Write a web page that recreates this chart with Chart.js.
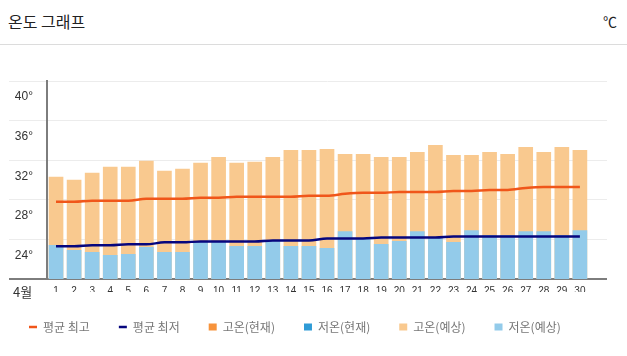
<!DOCTYPE html>
<html>
<head>
<meta charset="utf-8">
<script src="https://cdn.jsdelivr.net/npm/chart.js@4/dist/chart.umd.min.js"></script>
<style>
  html, body { margin: 0; padding: 0; background: #fff; }
  body { width: 627px; height: 356px; overflow: hidden; font-family: 'Noto Sans CJK KR', sans-serif; }
  #head { position: relative; height: 44px; border-bottom: 1px solid #dcdcdc; }
  #title { position: absolute; left: 8px; top: 9px; font-size: 16px; line-height: 24px; color: #222; }
  #unit { position: absolute; right: 10px; top: 9px; font-size: 14px; line-height: 24px; color: #222; }
  #wrap { position: relative; width: 627px; height: 311px; }
</style>
</head>
<body>
<div id="head"><span id="title">온도 그래프</span><span id="unit">℃</span></div>
<div id="wrap"><canvas id="c"></canvas></div>
<script>
const monthLabel = '4월';
const days = ['1','2','3','4','5','6','7','8','9','10','11','12','13','14','15','16','17','18','19','20','21','22','23','24','25','26','27','28','29','30'];
const yTicks = [20, 24, 28, 32, 36, 40];
const avgHigh = [27.8,27.8,27.9,27.9,27.9,28.1,28.1,28.1,28.2,28.2,28.3,28.3,28.3,28.3,28.4,28.4,28.6,28.7,28.7,28.8,28.8,28.8,28.9,28.9,29.0,29.0,29.2,29.3,29.3,29.3];
const avgLow = [23.3,23.3,23.4,23.4,23.5,23.5,23.7,23.7,23.8,23.8,23.8,23.8,23.9,23.9,23.9,24.1,24.1,24.1,24.2,24.2,24.2,24.2,24.3,24.3,24.3,24.3,24.3,24.3,24.3,24.3];
const highCurrent = [];
const lowCurrent = [];
const highForecast = [30.3,30.0,30.7,31.3,31.3,31.9,30.9,31.1,31.7,32.3,31.7,31.8,32.3,33.0,33.0,33.1,32.6,32.6,32.3,32.3,32.8,33.5,32.5,32.5,32.8,32.6,33.3,32.8,33.3,33.0];
const lowForecast = [23.4,22.9,22.7,22.4,22.5,23.2,22.7,22.7,23.7,23.7,23.3,23.3,23.8,23.3,23.3,23.1,24.8,24.1,23.5,23.8,24.8,24.2,23.7,24.9,24.4,24.4,24.8,24.8,24.4,24.9];

const labels = days.concat(['']);
const CJK = "'Noto Sans CJK KR', sans-serif";
const NARROW = "'Liberation Sans Narrow', 'Liberation Sans', sans-serif";

const monthPlugin = {
  id: 'monthLabel',
  afterDraw(chart) {
    const ctx = chart.ctx;
    ctx.save();
    ctx.font = "13px " + CJK;
    ctx.fillStyle = '#333';
    ctx.textAlign = 'left';
    ctx.textBaseline = 'middle';
    ctx.fillText(monthLabel, 13, chart.chartArea.bottom + 13);
    ctx.restore();
  }
};

new Chart(document.getElementById('c'), {
  data: {
    labels: labels,
    datasets: [
      { type: 'line', label: '평균 최고', data: avgHigh, borderColor: '#f0561a', backgroundColor: '#f0561a',
        borderWidth: 2.5, pointRadius: 0, pointHoverRadius: 0, pointBorderWidth: 2.5, pointStyle: 'line',
        cubicInterpolationMode: 'monotone', order: 0 },
      { type: 'line', label: '평균 최저', data: avgLow, borderColor: '#06067e', backgroundColor: '#06067e',
        borderWidth: 2.5, pointRadius: 0, pointHoverRadius: 0, pointBorderWidth: 2.5, pointStyle: 'line',
        cubicInterpolationMode: 'monotone', order: 0 },
      { type: 'bar', label: '고온(현재)', data: highCurrent, backgroundColor: '#f7933b', pointStyle: 'rect',
        grouped: false, barThickness: 14, order: 4 },
      { type: 'bar', label: '저온(현재)', data: lowCurrent, backgroundColor: '#2f9bd6', pointStyle: 'rect',
        grouped: false, barThickness: 14, order: 3 },
      { type: 'bar', label: '고온(예상)', data: highForecast, backgroundColor: '#f9c98f', pointStyle: 'rect',
        grouped: false, barThickness: 14, order: 2 },
      { type: 'bar', label: '저온(예상)', data: lowForecast, backgroundColor: '#93cbea', pointStyle: 'rect',
        grouped: false, barThickness: 14, order: 1 }
    ]
  },
  options: {
    responsive: true,
    maintainAspectRatio: false,
    animation: false,
    events: [],
    layout: { padding: { left: 0, right: 20, top: 36, bottom: 13 } },
    plugins: {
      tooltip: { enabled: false },
      legend: {
        position: 'bottom',
        align: 'start',
        labels: {
          usePointStyle: true,
          boxHeight: 7,
          pointStyleWidth: 8,
          padding: 29,
          color: '#777',
          font: { family: CJK, size: 12 },
          sort: (a, b) => a.datasetIndex - b.datasetIndex
        }
      }
    },
    scales: {
      x: {
        grid: { display: false, drawTicks: false },
        border: { display: false },
        ticks: { autoSkip: false, maxRotation: 0, minRotation: 0, padding: 6, color: '#333',
                 font: { family: NARROW, size: 10 } },
        afterFit: (s) => { s.height = 13; }
      },
      y: {
        min: 20,
        max: 40,
        afterBuildTicks: (s) => { s.ticks = yTicks.map(v => ({ value: v })); },
        grid: {
          color: (c) => (c.tick && c.tick.value === 20) ? '#7d7d7d' : '#ececec',
          lineWidth: (c) => (c.tick && c.tick.value === 20) ? 2 : 1,
          tickLength: 38
        },
        border: { display: true, color: '#7d7d7d', width: 2 },
        ticks: {
          padding: -24,
          labelOffset: 16,
          color: '#333',
          font: { family: NARROW, size: 12 },
          callback: (v) => v === 20 ? '' : v + '°'
        },
        afterFit: (s) => { s.width = 47; }
      }
    }
  },
  plugins: [monthPlugin]
});
</script>
</body>
</html>
